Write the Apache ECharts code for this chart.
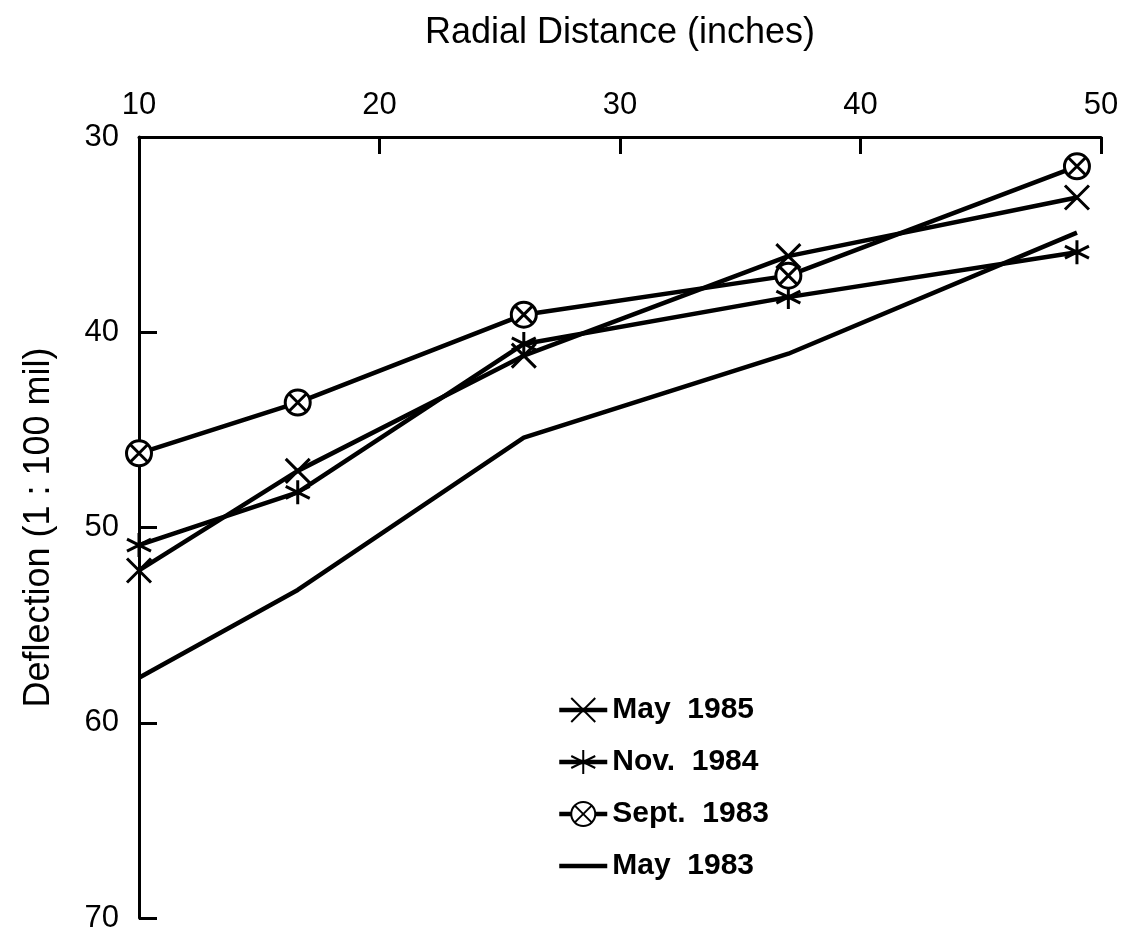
<!DOCTYPE html>
<html>
<head>
<meta charset="utf-8">
<script src="https://cdn.jsdelivr.net/npm/echarts@6/dist/echarts.min.js"></script>
<style>html,body{margin:0;padding:0;background:#fff}#c{width:1132px;height:934px}</style>
</head>
<body>
<div id="c"></div>
<script>
var radial = [10, 16.6, 26, 37, 49];
var may1985 = [52.2, 47.1, 41.2, 36.1, 33.1];
var nov1984 = [50.9, 48.2, 40.6, 38.2, 35.9];
var sept1983 = [46.2, 43.6, 39.1, 37.1, 31.5];
var may1983 = [57.7, 53.2, 45.4, 41.1, 34.9];
var seriesNames = ['May  1985', 'Nov.  1984', 'Sept.  1983', 'May  1983'];

function pairs(ys){ return radial.map(function(x,i){ return [x, ys[i]]; }); }

var symX = 'path://M0 0 L20 20 M20 0 L0 20';
var symStar = 'path://M10 0 L10 20 M1.3 5 L18.7 15 M18.7 5 L1.3 15';
var symCircX = 'path://M0 10 A10 10 0 1 1 20 10 A10 10 0 1 1 0 10 Z M3 3 L17 17 M17 3 L3 17';

var font = '"Liberation Sans", Arial, Helvetica, sans-serif';
var chart = echarts.init(document.getElementById('c'), null, {renderer:'canvas'});
function mk(name, ys, sym, size, fill, showSym){
  return {
    name: name, type: 'line', data: pairs(ys),
    symbol: sym, symbolSize: size,
    showSymbol: showSym,
    lineStyle: {color:'#000', width: 4.5},
    itemStyle: {color: fill, borderColor: showSym ? '#000' : 'rgba(0,0,0,0)', borderWidth: showSym ? 3 : 0},
    emphasis: {disabled: true},
    animation: false, z: 3
  };
}
chart.setOption({
  backgroundColor: '#fff',
  animation: false,
  grid: {left: 139, top: 137, right: 31, bottom: 16},
  legend: {
    orient: 'vertical', left: 552, top: 690,
    itemWidth: 48, itemHeight: 30, itemGap: 22,
    lineStyle: {width: 4.5},
    textStyle: {fontFamily: font, fontSize: 30, color: '#000', fontWeight: 'bold'},
    data: seriesNames
  },
  xAxis: {
    type: 'value', position: 'top', min: 10, max: 50, interval: 10,
    name: 'Radial Distance (inches)', nameLocation: 'middle', nameGap: 86,
    nameTextStyle: {fontFamily: font, fontSize: 36, color: '#000'},
    axisLine: {show: true, lineStyle: {color: '#000', width: 3}},
    axisTick: {show: true, inside: true, length: 17, lineStyle: {color:'#000', width: 3}},
    axisLabel: {fontFamily: font, fontSize: 31, color: '#000', margin: 16},
    splitLine: {show: false}
  },
  yAxis: {
    type: 'value', inverse: true, min: 30, max: 70, interval: 10,
    name: 'Deflection (1 : 100 mil)', nameLocation: 'middle', nameGap: 82,
    nameTextStyle: {fontFamily: font, fontSize: 36, color: '#000'},
    axisLine: {show: true, lineStyle: {color: '#000', width: 3}},
    axisTick: {show: true, inside: true, length: 18, lineStyle: {color:'#000', width: 3}},
    axisLabel: {fontFamily: font, fontSize: 31, color: '#000', margin: 20},
    splitLine: {show: false}
  },
  series: [
    mk(seriesNames[0], may1985, symX, 24, 'none', true),
    mk(seriesNames[1], nov1984, symStar, 24, 'none', true),
    mk(seriesNames[2], sept1983, symCircX, 25, '#fff', true),
    mk(seriesNames[3], may1983, symX, 24, 'rgba(0,0,0,0)', false)
  ]
});
</script>
</body>
</html>
